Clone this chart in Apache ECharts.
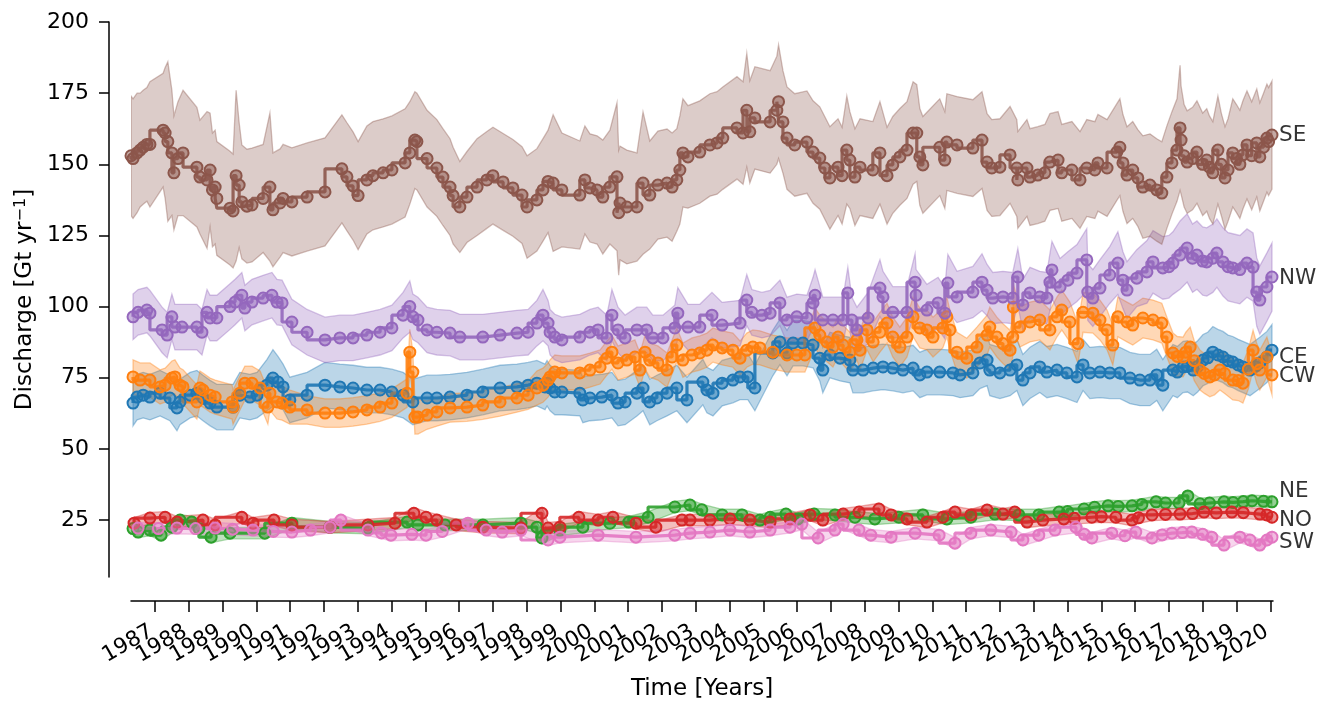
<!DOCTYPE html>
<html>
<head>
<meta charset="utf-8">
<script src="https://cdn.jsdelivr.net/npm/echarts@6/dist/echarts.min.js"></script>
<style>
html,body{margin:0;padding:0;background:#fff;}
#chart{width:1332px;height:702px;}
</style>
</head>
<body>
<div id="chart"></div>
<script>
// [year, discharge, uncertainty]
const ceData = [[1986.35,66.1,8],[1986.47,68.2,8],[1986.65,68.9,8],[1986.85,68.2,8],[1987.15,69.6,8],[1987.44,67.9,8],[1987.65,64.4,8],[1987.74,66.5,8],[1988.04,68.9,8],[1988.24,69.6,8],[1988.42,67.9,8],[1988.63,66.1,8],[1988.83,64.7,8],[1989.31,64.7,8],[1989.51,68.9,8],[1989.81,68.2,8],[1990.02,68.9,8],[1990.31,72.4,9],[1990.49,74.9,10],[1990.64,73.5,9],[1990.79,71.8,8],[1990.99,67.2,8],[1991.50,68.9,8],[1992.03,72.4,8],[1992.47,71.8,8],[1992.86,71.4,8],[1993.27,70.7,8],[1993.66,70.7,8],[1994.01,70,8],[1994.34,68.9,8],[1994.63,66.5,8],[1995.05,67.9,8],[1995.34,67.9,8],[1995.73,68.2,8],[1996.23,68.9,8],[1996.70,70,8],[1997.21,71.4,8],[1997.71,71.8,8],[1998.04,72.4,8],[1998.30,73.1,8],[1998.54,71.8,8],[1998.60,73.1,8],[1998.69,71.4,8],[1998.83,70,8],[1999.04,70,8],[1999.57,69.6,8],[1999.66,67.2,8],[1999.87,67.9,8],[2000.22,68.2,8],[2000.52,68.9,8],[2000.70,66.1,8],[2000.91,66.5,8],[2001.26,69.6,8],[2001.44,71.4,8],[2001.64,66.5,8],[2001.85,67.9,8],[2002.15,69.6,8],[2002.44,71.4,8],[2002.74,67.2,8],[2003.21,73.5,8],[2003.33,70.7,8],[2003.51,69.6,8],[2003.78,73.1,8],[2004.10,74.2,8],[2004.31,75.3,8],[2004.54,75.3,8],[2004.75,71.4,8],[2005.28,83.7,8],[2005.49,87.6,8],[2005.70,83.7,8],[2005.88,87.2,8],[2006.17,87.2,8],[2006.47,86.5,8],[2006.67,81.9,8],[2006.76,77.7,8],[2006.97,83,8],[2007.27,81.9,8],[2007.56,81.2,8],[2007.65,77.7,8],[2007.95,77.7,8],[2008.25,78.4,8],[2008.54,78.8,8],[2008.83,78.4,8],[2009.13,77.7,8],[2009.43,78.4,8],[2009.63,76,8],[2009.84,77,8],[2010.22,77,8],[2010.61,76.7,8],[2010.82,76,8],[2011.20,76.7,8],[2011.41,80.2,9],[2011.62,81.2,9],[2011.70,77.7,9],[2012.00,76.7,9],[2012.30,77.7,9],[2012.50,79.5,9],[2012.68,74.2,9],[2012.89,76.7,9],[2013.18,78.8,9],[2013.39,77,9],[2013.69,77.7,9],[2013.98,76.7,9],[2014.28,75.3,9],[2014.46,79.5,9],[2014.66,76.7,9],[2014.96,77,9],[2015.25,76.7,9],[2015.55,76.7,9],[2015.85,74.9,9],[2016.14,74.2,9],[2016.44,74.2,9],[2016.64,76,9],[2016.82,72.4,9],[2017.12,77.7,9],[2017.25,77,9],[2017.42,78.8,9],[2017.55,79,9],[2017.72,77.7,9],[2017.85,79,9],[2018.01,81.2,9],[2018.15,82,9],[2018.30,84,9],[2018.45,83,9],[2018.60,82.3,9],[2018.75,81,9],[2018.89,80.5,9],[2019.05,79.5,9],[2019.19,78.8,9],[2019.40,77.7,9],[2019.55,79,9],[2019.69,80.2,9],[2019.90,82.3,9],[2020.05,84.7,9]];

const cwData = [[1986.35,75.3,6],[1986.56,74.2,6],[1986.85,74.2,6],[1987.15,71.8,6],[1987.30,72.4,6],[1987.50,74.9,6],[1987.59,75.3,6],[1987.74,72.4,6],[1987.83,71.8,6],[1988.24,66.5,6],[1988.33,71.4,6],[1988.42,70.7,6],[1988.63,68.9,6],[1988.78,68.2,6],[1989.28,66.5,6],[1989.31,64.7,6],[1989.51,69.6,6],[1989.66,73.1,6],[1989.87,73.1,6],[1990.11,71.4,6],[1990.34,64.7,6],[1990.40,69.6,6],[1990.61,66.5,6],[1990.76,66.1,6],[1990.99,64.7,6],[1991.50,63.7,5],[1992.03,62.6,5],[1992.47,62.6,5],[1992.86,63,5],[1993.27,63.7,5],[1993.66,64.7,5],[1994.01,66.1,5],[1994.46,69.6,5],[1994.54,84,8],[1994.63,77,7],[1994.69,61.2,6],[1994.78,61.2,6],[1995.05,61.9,5],[1995.34,63,5],[1995.73,64.4,5],[1996.23,64.7,5],[1996.70,65.4,5],[1997.21,66.5,5],[1997.71,67.9,5],[1998.04,68.9,5],[1998.30,71.4,6],[1998.48,72.4,6],[1998.63,74.2,6],[1998.69,75.3,6],[1998.83,77,6],[1999.04,76.7,6],[1999.57,76.7,6],[1999.87,77.7,6],[2000.17,78.8,6],[2000.37,81.9,6],[2000.52,84,6],[2000.70,80.2,6],[2000.96,81.2,6],[2001.20,82.3,6],[2001.35,77.7,6],[2001.50,84,6],[2001.64,81.2,6],[2001.88,80.2,6],[2002.15,77.7,6],[2002.30,82.3,6],[2002.44,86.5,6],[2002.62,81.2,6],[2002.89,83,6],[2003.12,83.7,6],[2003.33,84.7,6],[2003.51,86.5,6],[2003.78,85.5,6],[2004.10,84.7,6],[2004.31,81.9,6],[2004.51,84.7,6],[2004.69,85.8,6],[2004.90,85.5,6],[2005.28,84,6],[2005.70,83,6],[2005.99,83,6],[2006.23,83,6],[2006.53,92.5,7],[2006.67,90,7],[2006.88,87.6,7],[2007.06,85.8,7],[2007.21,89.3,7],[2007.36,86.5,7],[2007.56,84,7],[2007.77,88.3,7],[2007.86,84.7,7],[2008.07,91.8,7],[2008.25,87.6,7],[2008.45,91,7],[2008.66,94.2,7],[2008.83,89.3,7],[2009.04,85.8,7],[2009.25,89.3,7],[2009.43,96.4,7],[2009.63,92.5,7],[2009.84,91.8,7],[2010.02,89.3,7],[2010.31,92.5,7],[2010.43,96.4,7],[2010.52,91.8,7],[2010.73,84,7],[2011.02,81.9,7],[2011.32,85.8,7],[2011.62,90,7],[2011.70,92.8,7],[2011.91,89.3,7],[2012.09,87,7],[2012.30,84.7,7],[2012.38,89.3,7],[2012.40,99.8,8],[2012.59,92.8,7],[2012.89,94.6,7],[2013.18,95.3,7],[2013.48,91.8,7],[2013.69,96.4,7],[2013.83,98.8,7],[2014.07,94.6,7],[2014.31,87,7],[2014.46,98,7],[2014.75,97.7,7],[2014.96,95.3,7],[2015.17,91.8,7],[2015.34,86.5,7],[2015.49,96.4,7],[2015.76,94.6,7],[2015.93,93.5,7],[2016.23,96,7],[2016.53,95.3,7],[2016.79,94.2,7],[2016.94,89.3,7],[2017.12,83.7,7],[2017.25,82.5,7],[2017.42,82.3,7],[2017.50,84,7],[2017.63,85.8,7],[2017.75,81,7],[2017.92,77.7,7],[2018.05,76.5,7],[2018.21,75.3,7],[2018.35,76,7],[2018.51,77.7,7],[2018.65,76.5,7],[2018.89,74.2,7],[2019.05,74,7],[2019.19,73.1,7],[2019.35,78,7],[2019.49,84.7,7],[2019.60,80,7],[2019.69,77.7,7],[2019.90,82.3,7],[2020.05,76,7]];

const neData = [[1986.35,22,2],[1986.50,20.8,2],[1986.85,21.5,2],[1987.18,19.7,2],[1987.50,22.5,2],[1987.74,25,2],[1988.09,24.3,2],[1988.30,22,2],[1988.66,19,2],[1989.22,20.4,2],[1990.25,20.4,2],[1991.05,23.9,2],[1992.18,22.5,2],[1993.30,22.2,2],[1994.46,24.3,2],[1994.78,23.3,2],[1995.58,23.3,2],[1996.70,23.3,2],[1997.83,23.9,2],[1998.30,22.5,2],[1998.45,18.7,2],[1998.98,21.5,2],[1999.66,22.5,2],[2000.46,23.9,2],[2001.02,24.3,2],[2001.59,26,2],[2002.38,29.6,2],[2002.83,30.3,2],[2003.18,28.6,2],[2003.78,26.8,2],[2004.37,26.8,2],[2004.90,25,2],[2005.20,26,2],[2005.67,27.1,2],[2006.02,25.4,2],[2006.50,27.1,2],[2007.12,26.8,2],[2007.71,26,2],[2008.30,25.4,2],[2009.01,26,2],[2009.72,26.8,2],[2010.43,25.4,2],[2011.14,26,2],[2011.85,27.1,2],[2012.56,26.8,2],[2013.15,26.8,2],[2013.75,27.8,2],[2014.00,28,2],[2014.49,28.9,2],[2014.80,29.5,2],[2015.20,30,2],[2015.50,29.8,2],[2015.91,30,2],[2016.20,30.5,2],[2016.62,31.4,2],[2016.90,31,2],[2017.30,31,2],[2017.56,33.5,2],[2017.92,30.7,2],[2018.20,31,2],[2018.63,31.4,2],[2018.90,31.2,2],[2019.20,31.5,2],[2019.46,31.8,2],[2019.80,31.6,2],[2020.05,31.4,2]];

const noData = [[1986.38,23.9,2],[1986.85,25.7,2],[1987.30,26,2],[1987.65,24.3,2],[1988.42,25,2],[1988.78,23.3,2],[1989.57,26,2],[1989.90,23.9,2],[1990.52,25,2],[1991.05,23.3,2],[1992.18,22.5,2],[1993.30,23.3,2],[1994.10,23.9,2],[1994.66,27.4,2],[1995.02,26,2],[1995.34,25,2],[1995.91,23.3,2],[1996.70,22.5,2],[1997.83,22.2,2],[1998.45,27.4,2],[1998.63,22.2,2],[1998.98,22.5,2],[1999.54,26,2],[2000.11,25,2],[2000.55,26,2],[2001.23,23.9,2],[2001.82,22.5,2],[2002.59,25,2],[2002.83,25,2],[2003.42,25,2],[2004.01,25.4,2],[2004.60,25,2],[2005.20,24.3,2],[2005.79,25.4,2],[2006.38,26.8,2],[2006.76,25,2],[2007.36,27.1,2],[2007.83,27.8,2],[2008.42,28.9,2],[2008.78,26.8,2],[2009.25,25.4,2],[2009.84,24.3,2],[2010.31,26,2],[2010.67,27.8,2],[2011.14,26.8,2],[2011.62,28.5,2],[2012.09,27.1,2],[2012.44,27.8,2],[2012.80,24.3,2],[2013.27,25,2],[2013.89,25.4,2],[2014.20,25.6,2],[2014.72,26,2],[2015.00,26.2,2],[2015.43,26,2],[2015.91,25,2],[2016.10,25.8,2],[2016.50,26.8,2],[2016.90,27,2],[2017.33,27.1,2],[2017.70,27.3,2],[2018.04,27.8,2],[2018.40,27.5,2],[2018.86,27.8,2],[2019.20,27.6,2],[2019.69,27.1,2],[2019.90,26.8,2],[2020.05,26,2]];

const nwData = [[1986.35,96.4,8],[1986.50,98,8],[1986.76,98.8,8],[1986.85,97.7,8],[1987.21,91.8,8],[1987.36,90,8],[1987.50,96.4,8],[1987.59,92.8,8],[1987.80,92.8,8],[1988.24,92.8,8],[1988.39,91,8],[1988.54,98,8],[1988.63,96,8],[1988.83,96,8],[1989.22,100,8],[1989.37,101.6,8],[1989.57,104,8],[1989.66,99.5,8],[1989.87,101.6,8],[1990.20,103,8],[1990.46,104,8],[1990.61,101.6,8],[1990.76,101.3,8],[1991.05,94.6,8],[1991.50,91,8],[1992.03,88.3,8],[1992.47,89,8],[1992.86,89,8],[1993.27,90,8],[1993.66,91,8],[1994.01,92.5,8],[1994.34,97,8],[1994.54,100,9],[1994.63,96.4,8],[1994.78,95.3,8],[1995.05,91.8,8],[1995.34,91,8],[1995.73,90.7,8],[1996.02,89.3,8],[1996.70,89.3,8],[1997.21,90,8],[1997.71,90.7,8],[1998.04,91,8],[1998.30,94.2,8],[1998.48,97,9],[1998.63,94.2,8],[1998.69,91,8],[1998.83,89.3,8],[1999.04,88.3,8],[1999.57,89.3,8],[1999.87,91,8],[2000.11,91.8,8],[2000.37,89,8],[2000.52,97,9],[2000.70,91.8,8],[2000.91,89,8],[2001.26,91.8,8],[2001.55,91.8,8],[2001.73,89,8],[2002.03,89,8],[2002.38,92.5,8],[2002.47,97.7,9],[2002.77,92.8,8],[2003.12,92.8,8],[2003.48,97,8],[2003.78,93.5,8],[2004.31,94.2,8],[2004.51,102.3,9],[2004.66,98,8],[2004.96,97,8],[2005.20,97.7,8],[2005.49,101.3,8],[2005.70,95.3,8],[2005.99,96.4,8],[2006.29,96,8],[2006.47,101.3,9],[2006.53,104,9],[2006.76,95.3,8],[2007.06,95.3,8],[2007.36,95.3,8],[2007.50,104.8,9],[2007.62,95.3,8],[2007.77,91.8,8],[2008.10,96,9],[2008.45,106.5,10],[2008.54,103.4,9],[2008.83,98,9],[2009.25,98,9],[2009.49,108.6,10],[2009.52,104,9],[2009.84,98.8,9],[2010.17,101.3,9],[2010.37,97.7,9],[2010.46,108.3,10],[2010.73,103.4,9],[2011.20,105.1,9],[2011.47,108.6,10],[2011.62,105.8,9],[2011.79,103,9],[2012.09,103.4,9],[2012.38,103,9],[2012.53,110.4,10],[2012.68,100.6,9],[2012.89,104.8,9],[2013.18,103.4,9],[2013.39,103,9],[2013.48,108.6,10],[2013.54,112.9,10],[2013.78,106.9,10],[2014.01,109.3,10],[2014.28,111.8,10],[2014.57,116.4,11],[2014.60,105.1,10],[2014.75,103,10],[2014.96,106.5,10],[2015.25,111.1,10],[2015.49,115.3,11],[2015.64,109.3,10],[2015.76,105.8,10],[2016.05,110,10],[2016.35,112.2,11],[2016.53,115.7,11],[2016.82,113.6,11],[2017.00,114,11],[2017.12,115.3,11],[2017.33,118.1,12],[2017.54,120.6,12],[2017.70,117,12],[2017.83,118.1,12],[2018.00,116,12],[2018.12,115.7,12],[2018.30,117,12],[2018.42,118.8,12],[2018.60,115.7,12],[2018.75,114,12],[2018.89,113.6,12],[2019.10,113,12],[2019.31,115.3,12],[2019.49,113.9,12],[2019.60,105.1,12],[2019.69,102.3,12],[2019.90,106.9,12],[2020.05,110.4,12]];

const seData = [[1986.29,153,21],[1986.35,152,21],[1986.47,154,21],[1986.56,155,20],[1986.65,156,20],[1986.76,157,20],[1986.85,157,22],[1987.24,162,20],[1987.30,161,23],[1987.38,158,28],[1987.50,154,22],[1987.56,147,20],[1987.68,152,20],[1987.83,154,22],[1988.24,149,21],[1988.33,145.5,20],[1988.54,144.5,24],[1988.63,148,20],[1988.70,141,20],[1988.78,142,20],[1988.83,138,20],[1989.22,134.6,20],[1989.31,133.6,20],[1989.40,146,30],[1989.49,142.7,22],[1989.57,136.8,20],[1989.72,135.3,20],[1989.87,135.7,20],[1990.20,138,19],[1990.40,142,26],[1990.49,134,20],[1990.70,136.4,19],[1990.79,138,19],[1991.05,136.8,19],[1991.50,138.5,19],[1992.03,140.3,19],[1992.53,148.4,19],[1992.68,145.6,19],[1992.86,142.4,19],[1993.01,139,19],[1993.27,144.5,19],[1993.45,146,19],[1993.75,147,19],[1994.01,148,19],[1994.40,150.5,19],[1994.54,154,18],[1994.69,158.5,17],[1994.75,158,17],[1995.05,152,17],[1995.34,148.7,17],[1995.52,145.5,17],[1995.73,142,17],[1995.82,139,17],[1996.02,135,16],[1996.23,138.5,16],[1996.53,142,17],[1996.82,144.5,17],[1997.00,146,17],[1997.30,143.8,17],[1997.59,141.7,17],[1997.86,139.2,17],[1998.01,135,18],[1998.30,137.5,18],[1998.48,141,18],[1998.63,144,18],[1998.78,143.4,24],[1999.04,141,20],[1999.57,139.2,19],[1999.72,144.5,19],[1999.87,141.7,19],[2000.08,141,19],[2000.25,138.5,20],[2000.46,142,20],[2000.67,145.6,26],[2000.72,133,22],[2000.76,136.4,20],[2000.96,135,20],[2001.26,135,19],[2001.44,143.4,25],[2001.64,139.2,19],[2001.88,142.7,19],[2002.15,143.4,19],[2002.30,142,19],[2002.44,144.5,18],[2002.53,148,19],[2002.62,154,19],[2002.77,152.6,18],[2003.12,154.3,18],[2003.42,156.8,18],[2003.63,157.5,18],[2003.80,159.2,18],[2004.22,162.8,18],[2004.40,161,18],[2004.51,169,20],[2004.60,161.4,18],[2004.75,166.3,18],[2005.20,164.9,18],[2005.40,169,19],[2005.45,172,20],[2005.58,164.9,18],[2005.70,159.2,18],[2005.93,156.8,18],[2006.29,157.8,18],[2006.47,154.3,18],[2006.67,152.2,18],[2006.82,148.7,18],[2006.97,145.2,18],[2007.21,149,17],[2007.33,146,17],[2007.47,155,19],[2007.56,151.5,17],[2007.71,145.5,17],[2007.86,149,17],[2008.24,148,17],[2008.45,154,18],[2008.66,146,17],[2008.83,149.8,17],[2009.04,152.6,17],[2009.25,155,17],[2009.43,161,18],[2009.54,161,17],[2009.63,152.6,17],[2009.72,149.8,17],[2010.22,156,17],[2010.37,151.5,17],[2010.43,157.8,17],[2010.73,156.8,17],[2011.20,155.7,17],[2011.47,158.5,17],[2011.62,150.8,17],[2011.76,148.7,17],[2012.00,149,17],[2012.30,153.3,17],[2012.50,148.7,17],[2012.53,144.5,17],[2012.80,148.7,17],[2012.89,145.5,17],[2013.12,146.2,17],[2013.33,147,17],[2013.48,150.8,17],[2013.72,151.5,17],[2013.83,147,17],[2014.13,148,17],[2014.37,144.5,17],[2014.57,148.7,17],[2014.81,148,17],[2014.90,150.5,17],[2015.17,148.7,17],[2015.46,154.3,17],[2015.55,156,17],[2015.64,150.5,17],[2015.76,146.2,17],[2015.93,148,17],[2016.08,145.2,17],[2016.23,142,18],[2016.44,142.7,18],[2016.64,141,18],[2016.79,139.9,18],[2016.94,145.5,18],[2017.09,150.5,18],[2017.24,155,18],[2017.33,162.8,22],[2017.36,158.5,19],[2017.45,153,18],[2017.54,150.8,18],[2017.70,152,18],[2017.83,154.3,18],[2018.00,150,18],[2018.12,151.5,18],[2018.20,149,18],[2018.30,147,18],[2018.45,155,19],[2018.55,150,18],[2018.66,145.2,18],[2018.75,148,18],[2018.89,154,19],[2019.00,152,19],[2019.10,150,19],[2019.19,153.3,19],[2019.31,156.8,19],[2019.45,153,19],[2019.60,157.5,19],[2019.69,152.6,19],[2019.80,156,19],[2019.90,159.2,19],[2019.95,158,19],[2020.05,160.3,19]];

const swData = [[1986.50,22.2,2],[1987.10,22,2],[1987.65,22.2,2],[1988.20,22,2],[1988.78,22.2,2],[1989.30,21.8,2],[1989.90,21.5,2],[1990.50,21,2],[1991.05,20.8,2],[1991.60,21.5,2],[1992.18,22.5,2],[1992.50,25,2],[1993.30,21.5,2],[1993.70,20.5,2],[1993.98,19.7,2],[1994.60,20,2],[1995.02,19.7,2],[1995.50,21,2],[1996.26,23.9,2],[1996.80,21.5,2],[1997.27,20.8,2],[1997.83,21.5,2],[1998.63,18,2],[1998.98,19,2],[2000.11,19.7,2],[2001.23,19,2],[2002.38,19.7,2],[2002.83,20.4,2],[2003.42,20.8,2],[2004.01,21.5,2],[2004.60,20.8,2],[2005.20,21.5,2],[2005.79,22.5,2],[2006.14,23.6,2],[2006.62,18.7,2],[2007.12,21.5,2],[2007.36,23.6,2],[2007.83,21.5,2],[2008.18,19.7,2],[2008.78,19,2],[2009.49,20.4,2],[2010.20,19.7,2],[2010.67,16.9,2],[2011.14,20.4,2],[2011.73,21.5,2],[2012.33,20.8,2],[2012.68,18,2],[2013.15,19.7,2],[2013.63,21.5,2],[2014.25,22.5,2],[2014.50,20,2],[2014.72,18.7,2],[2015.31,20.4,2],[2015.70,19.5,2],[2016.02,20.8,2],[2016.50,18.7,2],[2016.80,19.8,2],[2017.09,20.4,2],[2017.40,20.6,2],[2017.68,20.8,2],[2018.00,20,2],[2018.27,19,2],[2018.63,16.2,2],[2019.10,19,2],[2019.40,18,2],[2019.69,16.2,2],[2019.90,18,2],[2020.05,19,2]];

const regionNames = ['CE','CW','NE','NO','NW','SE','SW'];
const yearTicks = [1987,1988,1989,1990,1991,1992,1993,1994,1995,1996,1997,1998,1999,2000,2001,2002,2003,2004,2005,2006,2007,2008,2009,2010,2011,2012,2013,2014,2015,2016,2017,2018,2019,2020];
const valueTicks = [25,50,75,100,125,150,175,200];
const labelNames = ['SE','NW','CE','CW','NE','NO','SW'];
const labelValues = [160.3,110,82,75.3,34.9,25,17];

const regionData = {CE: ceData, CW: cwData, NE: neData, NO: noData, NW: nwData, SE: seData, SW: swData};
const regionColors = {CE:'#1f77b4', CW:'#ff7f0e', NE:'#2ca02c', NO:'#d62728', NW:'#9467bd', SE:'#8c564b', SW:'#e377c2'};

function rgba(hex, a) {
  const n = parseInt(hex.slice(1), 16);
  return 'rgba(' + ((n >> 16) & 255) + ',' + ((n >> 8) & 255) + ',' + (n & 255) + ',' + a + ')';
}

const FONT = 'DejaVu Sans';
const xMin = 1986.29, xMax = 2020.08;
// label positions include the two axis ends (drawn empty) so every year label is kept
const labelPositions = [xMin].concat(yearTicks, [xMax]);

const series = [];
regionNames.forEach(function (name) {
  const pts = regionData[name];
  const color = regionColors[name];
  series.push({
    type: 'custom',
    name: name + ' band',
    silent: true,
    clip: true,
    data: pts.map(function (d) { return [d[0], d[1] - d[2], d[1] + d[2]]; }),
    encode: { x: 0, y: [1, 2] },
    renderItem: function (params, api) {
      if (params.dataIndex !== 0) return null;
      const upper = pts.map(function (d) { return api.coord([d[0], d[1] + d[2]]); });
      const lower = pts.map(function (d) { return api.coord([d[0], d[1] - d[2]]); }).reverse();
      return {
        type: 'polygon',
        shape: { points: upper.concat(lower) },
        style: { fill: rgba(color, 0.3), stroke: rgba(color, 0.38), lineWidth: 1.3 }
      };
    }
  });
  series.push({
    type: 'line',
    name: name,
    data: pts.map(function (d) { return [d[0], d[1]]; }),
    step: 'start',
    symbol: 'circle',
    symbolSize: 11,
    lineStyle: { color: color, width: 3.2, opacity: 0.9 },
    itemStyle: { color: rgba(color, 0.5), borderColor: color, borderWidth: 2 },
    emphasis: { disabled: true },
    silent: true
  });
});

series.push({
  type: 'scatter',
  silent: true,
  clip: false,
  symbolSize: 0,
  data: labelNames.map(function (n, i) { return { name: n, value: [xMax, labelValues[i]] }; }),
  label: {
    show: true, position: 'right', distance: 6, formatter: '{b}',
    color: '#000', fontSize: 21.5, fontFamily: FONT
  }
});

const chart = echarts.init(document.getElementById('chart'), null, { renderer: 'canvas' });
chart.setOption({
  animation: false,
  backgroundColor: '#fff',
  grid: { left: 131, right: 59, top: 22, bottom: 125, containLabel: false, outerBoundsMode: 'none' },
  xAxis: [{
    type: 'value', min: xMin, max: xMax, offset: 24,
    axisLine: { show: true, onZero: false, lineStyle: { color: '#000', width: 1.5 } },
    axisTick: { show: false },
    axisLabel: {
      customValues: labelPositions, rotate: 30, margin: 27,
      padding: [0, 4, 0, 0],
      formatter: function (v) { return (v === xMin || v === xMax) ? '' : String(Math.round(v)); },
      color: '#000', fontSize: 21.5, fontFamily: FONT
    },
    splitLine: { show: false },
    name: 'Time [Years]', nameLocation: 'middle', nameGap: 77,
    nameTextStyle: { color: '#000', fontSize: 23, fontFamily: FONT }
  }, {
    type: 'value', min: xMin, max: xMax, offset: 24, position: 'bottom',
    axisLine: { show: false, onZero: false },
    axisTick: { show: true, length: 11, lineStyle: { color: '#000', width: 1.5 }, customValues: yearTicks },
    axisLabel: { show: false },
    splitLine: { show: false }
  }],
  yAxis: {
    type: 'value', min: 5, max: 200, offset: 22,
    axisLine: { show: true, onZero: false, lineStyle: { color: '#000', width: 1.5 } },
    axisTick: { show: true, length: 10, lineStyle: { color: '#000', width: 1.5 }, customValues: valueTicks },
    axisLabel: { customValues: valueTicks, margin: 20, color: '#000', fontSize: 22, fontFamily: FONT },
    splitLine: { show: false },
    name: 'Discharge [Gt yr{sup|\u22121}]', nameLocation: 'middle', nameGap: 70, nameRotate: 90,
    nameTextStyle: {
      color: '#000', fontSize: 23, fontFamily: FONT,
      rich: { sup: { fontSize: 16, fontFamily: FONT, color: '#000', verticalAlign: 'top', lineHeight: 16 } }
    }
  },
  series: series
});
</script>
</body>
</html>
